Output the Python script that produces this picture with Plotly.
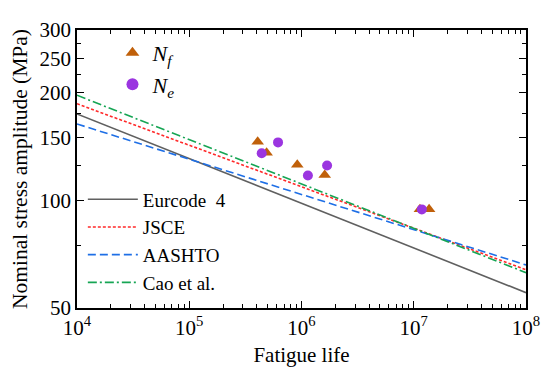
import plotly.graph_objects as go

# ---- data ----
line_x = [1e4, 1e8]
euro_y = [174.7, 55.2]
jsce_y = [186.5, 64.0]
aashto_y = [163.7, 66.0]
cao_y = [197.0, 62.8]

nf_x = [4.07e5, 4.89e5, 9.17e5, 1.61e6, 1.135e7, 1.37e7]
nf_y = [146.0, 136.0, 125.8, 117.8, 94.5, 94.5]
ne_x = [4.42e5, 6.18e5, 1.14e6, 1.69e6, 1.18e7]
ne_y = [135.5, 145.4, 117.4, 125.3, 94.4]

x_ticks = [1e4, 1e5, 1e6, 1e7, 1e8]
x_ticktext = ["10<sup>4</sup>", "10<sup>5</sup>", "10<sup>6</sup>", "10<sup>7</sup>", "10<sup>8</sup>"]
x_minor = [m * 10 ** e for e in range(4, 8) for m in range(2, 10)]
y_ticks = [50, 100, 150, 200, 250, 300]
y_minor = [75, 125, 175, 225, 275]

FONT = "Liberation Serif"

fig = go.Figure()
fig.add_trace(go.Scatter(x=line_x, y=euro_y, mode="lines", name="Eurcode  4",
                         line=dict(color="#606060", width=1.6), legend="legend2"))
fig.add_trace(go.Scatter(x=line_x, y=jsce_y, mode="lines", name="JSCE",
                         line=dict(color="#FF2A2A", width=1.6, dash="3px,2px"), legend="legend2"))
fig.add_trace(go.Scatter(x=line_x, y=aashto_y, mode="lines", name="AASHTO",
                         line=dict(color="#1E6FE6", width=1.6, dash="8px,4px"), legend="legend2"))
fig.add_trace(go.Scatter(x=line_x, y=cao_y, mode="lines", name="Cao et al.",
                         line=dict(color="#16A554", width=1.6, dash="9px,3px,2px,3px"), legend="legend2"))
fig.add_trace(go.Scatter(x=nf_x, y=nf_y, mode="markers", name="<i>N<sub>f</sub></i>",
                         marker=dict(symbol="triangle-up", size=11, color="#C0600A"), legend="legend"))
fig.add_trace(go.Scatter(x=ne_x, y=ne_y, mode="markers", name="<i>N<sub>e</sub></i>",
                         marker=dict(symbol="circle", size=10, color="#9B35E0"), legend="legend"))

axis_common = dict(showline=True, linecolor="black", linewidth=1.5, mirror="allticks",
                   ticks="inside", ticklen=7, tickwidth=1.3, tickcolor="black",
                   showgrid=False, zeroline=False, automargin=True,
                   tickfont=dict(family=FONT, size=21, color="black"))

fig.update_xaxes(type="log", range=[4, 8], tickvals=x_ticks, ticktext=x_ticktext,
                 title=dict(text="Fatigue life", font=dict(family=FONT, size=21, color="black"), standoff=8),
                 minor=dict(tickvals=x_minor, ticks="inside", ticklen=4, tickcolor="black", tickwidth=1.1),
                 **axis_common)
fig.update_yaxes(type="log", range=[1.69897, 2.4771213], tickvals=y_ticks,
                 ticktext=[str(v) for v in y_ticks],
                 title=dict(text="Nominal stress amplitude (MPa)", font=dict(family=FONT, size=21.5, color="black"), standoff=6),
                 minor=dict(tickvals=y_minor, ticks="inside", ticklen=4, tickcolor="black", tickwidth=1.1),
                 **axis_common)

# page body adds an 8px offset, so the figure is 8px smaller on each of those sides
fig.update_layout(
    width=542, height=369,
    margin=dict(l=67, r=21, t=10, b=69),
    plot_bgcolor="white", paper_bgcolor="white",
    font=dict(family=FONT, size=20, color="black"),
    legend=dict(x=0.079, y=0.86, xanchor="left", yanchor="middle", bgcolor="rgba(0,0,0,0)",
                font=dict(family=FONT, size=22), tracegroupgap=0, itemsizing="constant"),
    legend2=dict(x=0.013, y=0.459, xanchor="left", yanchor="top", bgcolor="rgba(0,0,0,0)",
                 font=dict(family=FONT, size=19), tracegroupgap=0, itemwidth=50),
)

fig.write_html("out.html")
